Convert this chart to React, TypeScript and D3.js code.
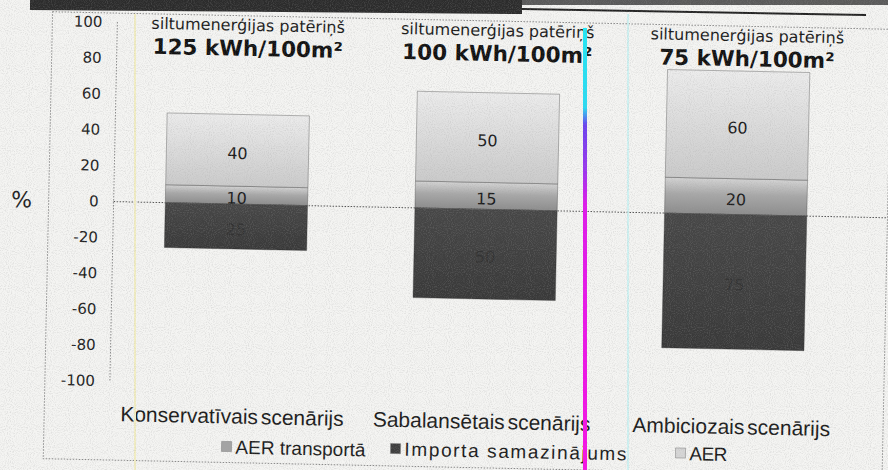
import React from 'react';
import * as d3 from 'd3';

const scenarios = ['Konservatīvais scenārijs', 'Sabalansētais scenārijs', 'Ambiciozais scenārijs'];
const consumption = ['125 kWh/100m²', '100 kWh/100m²', '75 kWh/100m²'];
const aer = [40, 50, 60];
const aerTransport = [10, 15, 20];
const importReduction = [-25, -50, -75];
const yTicks = [100, 80, 60, 40, 20, 0, -20, -40, -60, -80, -100];
const seriesKeys = ['transport', 'imports', 'aer'];
const seriesNames = ['AER transportā', 'Importa samazinājums', 'AER'];

const width = 888;
const height = 470;

const fills = { transport: 'url(#gTransport)', imports: 'url(#gImport)', aer: 'url(#gAer)' };
const swatch = { transport: '#a4a4a4', imports: '#3e3e3e', aer: '#d6d6d6' };
// legend layout: swatch x and text width
const legendX = [226, 395, 680];
const legendTextW = [130, 222, 38];

const App = () => {
    const rows = scenarios.map((s, i) => ({
        scenario: s,
        transport: aerTransport[i],
        imports: importReduction[i],
        aer: aer[i]
    }));
    const stacked = d3.stack().keys(seriesKeys).offset(d3.stackOffsetDiverging)(rows);

    const x = d3.scaleBand().domain(scenarios).range([111, 860]).paddingInner(0.43).paddingOuter(0.215);
    const y = d3.scaleLinear().domain([-100, 100]).range([388, 29]);
    const y0 = y(0);

    return (
        <svg width={width} height={height} style={{ position: 'absolute', left: 0, top: 0, display: 'block' }}>
            <defs>
                <linearGradient id="gAer" x1="0" y1="0" x2="0" y2="1">
                    <stop offset="0%" stopColor="#ececec" />
                    <stop offset="100%" stopColor="#cbcbcb" />
                </linearGradient>
                <linearGradient id="gTransport" x1="0" y1="0" x2="0" y2="1">
                    <stop offset="0%" stopColor="#d4d4d4" />
                    <stop offset="45%" stopColor="#a8a8a8" />
                    <stop offset="100%" stopColor="#8c8c8c" />
                </linearGradient>
                <linearGradient id="gImport" x1="0" y1="0" x2="0" y2="1">
                    <stop offset="0%" stopColor="#474747" />
                    <stop offset="100%" stopColor="#393939" />
                </linearGradient>
                <linearGradient id="gMarker" x1="0" y1="0" x2="0" y2="1">
                    <stop offset="0%" stopColor="#22e8f6" />
                    <stop offset="18%" stopColor="#28dcf4" />
                    <stop offset="22%" stopColor="#6a40f0" />
                    <stop offset="32%" stopColor="#9a34f0" />
                    <stop offset="40%" stopColor="#e018ec" />
                    <stop offset="100%" stopColor="#f810e4" />
                </linearGradient>
                <filter id="grain" x="0" y="0" width="100%" height="100%">
                    <feTurbulence type="fractalNoise" baseFrequency="0.95" numOctaves="1" seed="4" />
                    <feColorMatrix type="matrix" values="0 0 0 0 0.35  0 0 0 0 0.35  0 0 0 0 0.35  1.4 0 0 0 -0.62" />
                </filter>
            </defs>

            <rect width={width} height={height} fill="#f4f4f2" />

            {/* scan edge at the top */}
            <polygon points="30,0 522,0 522,14 30,10" fill="#2c2c2c" />
            <rect x={522} y={0} width={366} height={5} fill="#5a5a5a" />
            <line x1={522} y1={9} x2={866} y2={15} stroke="#222" strokeWidth={2} />

            <g transform="rotate(1.2 444 235)">
                <rect x={48} y={20} width={839} height={447} fill="none" stroke="#8a8a8a" strokeWidth={1} strokeDasharray="1.5 1.5" />

                {/* y axis */}
                <line x1={113} x2={113} y1={y(100)} y2={y(-100)} stroke="#8a8a8a" strokeDasharray="1.5 1.5" />
                {yTicks.map(t => (
                    <text key={t} x={98} y={y(t)} dy="0.35em" textAnchor="end"
                        fontFamily="DejaVu Sans" fontSize={15} fill="#222">{t}</text>
                ))}
                <text x={21} y={y0} dy="0.35em" textAnchor="middle" fontFamily="DejaVu Sans" fontSize={22} fill="#222">%</text>

                {/* bars */}
                {stacked.map(series => (
                    <g key={series.key}>
                        {series.map((d, i) => (
                            <rect key={i}
                                x={x(scenarios[i])}
                                y={y(Math.max(d[0], d[1]))}
                                width={x.bandwidth()}
                                height={Math.abs(y(d[0]) - y(d[1]))}
                                fill={fills[series.key]}
                                stroke="rgba(40,40,40,0.55)" strokeWidth={0.6} />
                        ))}
                    </g>
                ))}

                {/* zero line */}
                <line x1={113} x2={887} y1={y0} y2={y0} stroke="#555" strokeDasharray="1.5 1.5" />

                {/* value labels */}
                {stacked.map(series => series.map((d, i) => (
                    <text key={series.key + i}
                        x={x(scenarios[i]) + x.bandwidth() / 2}
                        y={(y(d[0]) + y(d[1])) / 2 + 3}
                        dy="0.35em" textAnchor="middle"
                        fontFamily="DejaVu Sans" fontSize={16}
                        fill={series.key === 'imports' ? '#333' : '#1b1b1b'}>
                        {Math.abs(d[1] - d[0])}
                    </text>
                )))}

                {/* consumption titles */}
                {scenarios.map((s, i) => (
                    <g key={s} transform={`translate(${x(s) + x.bandwidth() / 2 + 8},0)`}>
                        <text y={35} textAnchor="middle" fontFamily="DejaVu Sans" fontSize={16} fill="#1b1b1b">siltumenerģijas patēriņš</text>
                        <text y={60} textAnchor="middle" fontFamily="DejaVu Sans" fontWeight="bold" fontSize={21.5} fill="#111">{consumption[i]}</text>
                    </g>
                ))}

                {/* category labels */}
                {scenarios.map(s => (
                    <text key={s} x={x(s) + x.bandwidth() / 2} y={428} textAnchor="middle"
                        fontFamily="Liberation Sans" fontSize={21} wordSpacing={-3} fill="#1b1b1b">{s}</text>
                ))}

                {/* legend */}
                {seriesKeys.map((k, i) => (
                    <g key={k} transform={`translate(${legendX[i]},${458 - i * 1.5})`}>
                        <rect x={0} y={-12} width={10} height={10} fill={swatch[k]} stroke="#777" strokeWidth={0.5} />
                        <text x={14} y={0} fontFamily="Liberation Sans" fontSize={19} fill="#1b1b1b"
                            textLength={legendTextW[i]} lengthAdjust="spacing">{seriesNames[i]}</text>
                    </g>
                ))}
            </g>

            {/* scanner streaks */}
            <line x1={135} x2={135} y1={14} y2={height} stroke="#f2eec4" strokeWidth={2} />
            <line x1={628} x2={628} y1={14} y2={height} stroke="#c4f2f2" strokeWidth={1.5} />
            <rect x={583} y={28} width={4} height={height - 28} fill="url(#gMarker)" />

            <rect width={width} height={height} filter="url(#grain)" opacity={0.5} />
        </svg>
    );
};

export default App;
